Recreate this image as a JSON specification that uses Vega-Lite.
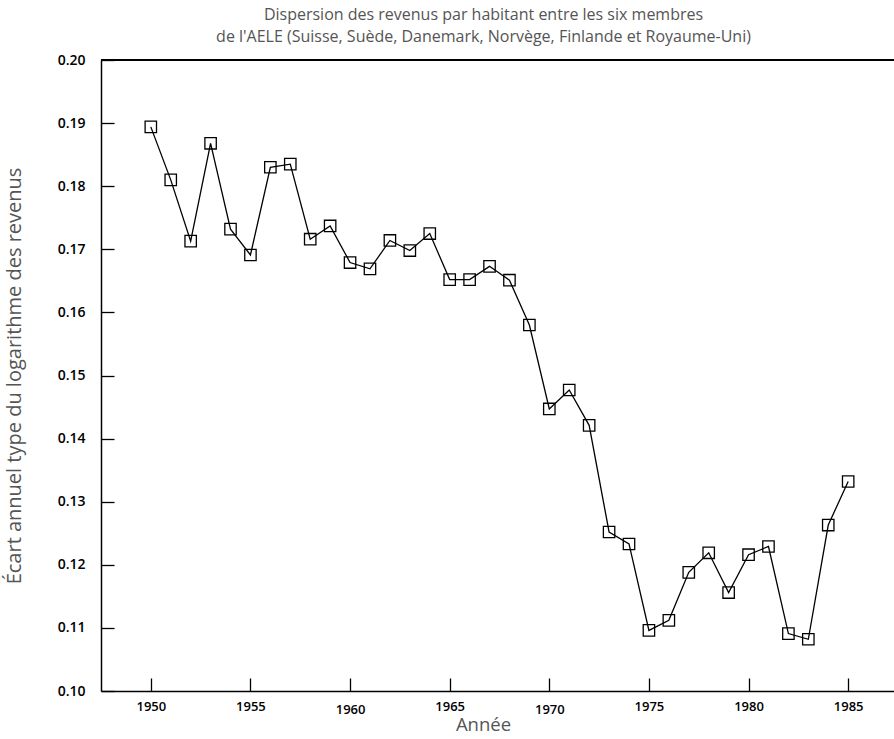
{
  "$schema": "https://vega.github.io/schema/vega-lite/v6.json",
  "autosize": "none",
  "width": 793,
  "height": 631,
  "padding": {"left": 101, "top": 60, "right": 0, "bottom": 48},
  "background": "white",
  "title": {
    "text": ["Dispersion des revenus par habitant entre les six membres", "de l'AELE (Suisse, Suède, Danemark, Norvège, Finlande et Royaume-Uni)"],
    "font": "Open Sans",
    "fontSize": 16,
    "fontWeight": "normal",
    "color": "#555555",
    "anchor": "middle",
    "dx": -14,
    "offset": 8,
    "lineHeight": 22
  },
  "config": {
    "view": {"stroke": null},
    "axis": {
      "domainColor": "black",
      "domainWidth": 1.5,
      "tickColor": "black",
      "tickWidth": 1.3,
      "tickSize": -13,
      "grid": false,
      "labelFont": "Open Sans",
      "labelFontWeight": 600,
      "labelColor": "black",
      "titleFont": "Open Sans",
      "titleFontWeight": "normal",
      "titleColor": "#555555",
      "titleFontSize": 18.5
    }
  },
  "data": {
    "values": [
      {"annee": 1950, "ecart": 0.1894},
      {"annee": 1951, "ecart": 0.1810},
      {"annee": 1952, "ecart": 0.1713},
      {"annee": 1953, "ecart": 0.1868},
      {"annee": 1954, "ecart": 0.1732},
      {"annee": 1955, "ecart": 0.1691},
      {"annee": 1956, "ecart": 0.1830},
      {"annee": 1957, "ecart": 0.1835},
      {"annee": 1958, "ecart": 0.1716},
      {"annee": 1959, "ecart": 0.1737},
      {"annee": 1960, "ecart": 0.1679},
      {"annee": 1961, "ecart": 0.1669},
      {"annee": 1962, "ecart": 0.1714},
      {"annee": 1963, "ecart": 0.1698},
      {"annee": 1964, "ecart": 0.1725},
      {"annee": 1965, "ecart": 0.1652},
      {"annee": 1966, "ecart": 0.1652},
      {"annee": 1967, "ecart": 0.1673},
      {"annee": 1968, "ecart": 0.1651},
      {"annee": 1969, "ecart": 0.1580},
      {"annee": 1970, "ecart": 0.1447},
      {"annee": 1971, "ecart": 0.1477},
      {"annee": 1972, "ecart": 0.1421},
      {"annee": 1973, "ecart": 0.1252},
      {"annee": 1974, "ecart": 0.1233},
      {"annee": 1975, "ecart": 0.1096},
      {"annee": 1976, "ecart": 0.1112},
      {"annee": 1977, "ecart": 0.1188},
      {"annee": 1978, "ecart": 0.1219},
      {"annee": 1979, "ecart": 0.1156},
      {"annee": 1980, "ecart": 0.1216},
      {"annee": 1981, "ecart": 0.1229},
      {"annee": 1982, "ecart": 0.1091},
      {"annee": 1983, "ecart": 0.1082},
      {"annee": 1984, "ecart": 0.1263},
      {"annee": 1985, "ecart": 0.1332}
    ]
  },
  "layer": [
    {
      "mark": {"type": "rule", "color": "black", "strokeWidth": 1.5},
      "encoding": {"y": {"datum": 0.2, "type": "quantitative"}}
    },
    {
      "mark": {"type": "line", "color": "black", "strokeWidth": 1.3, "point": {"shape": "square", "filled": false, "size": 130, "stroke": "black", "strokeWidth": 1.3, "opacity": 1}},
      "encoding": {
        "x": {
          "field": "annee",
          "type": "quantitative",
          "scale": {"domain": [1947.5, 1987.3], "nice": false, "zero": false},
          "axis": {
            "title": "Année",
            "values": [1950, 1955, 1960, 1965, 1970, 1975, 1980, 1985],
            "format": "d",
            "labelFontSize": 13,
            "labelPadding": {"condition": {"test": "datum.value == 1960 || datum.value == 1970", "value": 25}, "value": 22},
            "titleX": 382,
            "titleY": 39,
            "titleBaseline": "alphabetic"
          }
        },
        "y": {
          "field": "ecart",
          "type": "quantitative",
          "scale": {"domain": [0.1, 0.2], "nice": false, "zero": false},
          "axis": {
            "title": "Écart annuel type du logarithme des revenus",
            "titleFontSize": 20,
            "values": [0.10, 0.11, 0.12, 0.13, 0.14, 0.15, 0.16, 0.17, 0.18, 0.19, 0.20],
            "format": ".2f",
            "labelFontSize": 14,
            "labelPadding": 29,
            "titleX": -77
          }
        }
      }
    }
  ]
}
